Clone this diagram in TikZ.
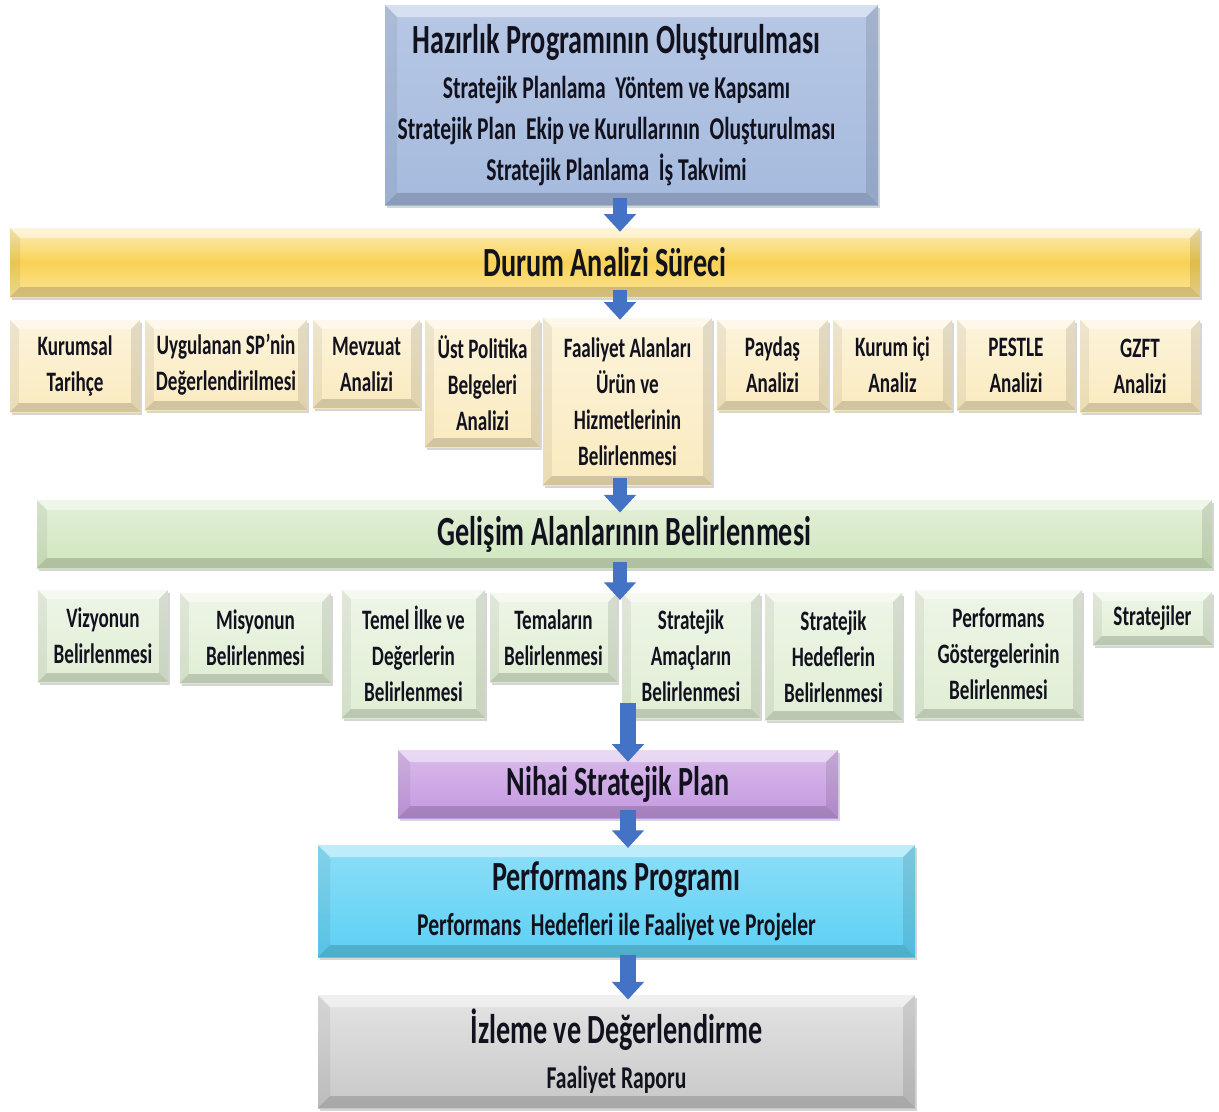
\documentclass[tikz,border=0pt]{standalone}
\usepackage{fontspec}
\setmainfont{Carlito}[FakeStretch=0.68]
\usetikzlibrary{arrows.meta, shadows}

\definecolor{arrowblue}{RGB}{68,114,196}
\definecolor{inktext}{RGB}{18,18,30}
\definecolor{prepblue}{RGB}{165,186,222}
\definecolor{bandgold}{RGB}{249,210,84}
\definecolor{cream}{RGB}{250,234,190}
\definecolor{bandgreen}{RGB}{208,230,190}
\definecolor{leafgreen}{RGB}{224,238,212}
\definecolor{planpurple}{RGB}{196,152,224}
\definecolor{perfcyan}{RGB}{92,208,244}
\definecolor{watchgray}{RGB}{200,200,200}

\newcommand\bigfont{\fontsize{29.5}{33}\selectfont}
\newcommand\subfont{\fontsize{22.6}{29}\selectfont}
\newcommand\boxfont{\fontsize{20}{25.6}\selectfont}

\tikzset{
  bevel/.style={path picture={
      \fill[white, opacity=0.45] (path picture bounding box.north west) -- (path picture bounding box.north east)
        -- ([shift={(-#1,-#1)}]path picture bounding box.north east) -- ([shift={(#1,-#1)}]path picture bounding box.north west) -- cycle;
      \fill[black, opacity=0.06] (path picture bounding box.north west) -- ([shift={(#1,-#1)}]path picture bounding box.north west)
        -- ([shift={(#1,#1)}]path picture bounding box.south west) -- (path picture bounding box.south west) -- cycle;
      \fill[black, opacity=0.1] (path picture bounding box.north east) -- (path picture bounding box.south east)
        -- ([shift={(-#1,#1)}]path picture bounding box.south east) -- ([shift={(-#1,-#1)}]path picture bounding box.north east) -- cycle;
      \fill[black, opacity=0.16] (path picture bounding box.south west) -- (path picture bounding box.south east)
        -- ([shift={(-#1,#1)}]path picture bounding box.south east) -- ([shift={(#1,#1)}]path picture bounding box.south west) -- cycle;
    }},
  bevel/.default=0.22cm,
  boxsize/.style 2 args={minimum width=#1*0.025cm, minimum height=#2*0.025cm},
  stage/.style={inner sep=0pt, align=center, text=inktext, font=\bfseries,
    drop shadow={shadow xshift=0.04cm, shadow yshift=-0.08cm, opacity=0.3, fill=black!55}},
  prep/.style={stage, bevel=0.3cm, top color=prepblue!80!white, bottom color=prepblue},
  preptext/.style={inner sep=0pt, align=center, text=inktext, font=\bfseries\subfont, xshift=-0.375cm},
  band/.style={stage, bevel=0.25cm, font=\bfseries\bigfont},
  gold/.style={band, top color=bandgold!40!white, bottom color=bandgold!60!white, middle color=bandgold},
  green/.style={band, top color=bandgreen!60!white, bottom color=bandgreen},
  item/.style={stage, bevel, font=\bfseries\boxfont},
  creambox/.style={item, top color=cream!55!white, bottom color=cream},
  leafbox/.style={item, top color=leafgreen!55!white, bottom color=leafgreen},
  final/.style={stage, bevel=0.3cm, font=\bfseries\subfont},
  flow/.style={draw=arrowblue, line width=0.36cm, -{Triangle[width=0.78cm, length=0.44cm]}}
}

\begin{document}
\begin{tikzpicture}[x=0.025cm, y=-0.025cm]
  \useasboundingbox (0,0) rectangle (1219,1112);
  \coordinate (axis) at (620,0);
  \coordinate (lowaxis) at (628,0);

  % hazirlik
  \node [prep, boxsize={493}{200}, label={[preptext]center:%
    {\bigfont Hazırlık Programının Oluşturulması}\\[3pt]
    Stratejik Planlama\ \ Yöntem ve Kapsamı\\
    Stratejik Plan\ \ Ekip ve Kurullarının\ \ Oluşturulması\\
    Stratejik Planlama\ \ İş Takvimi}] (prep) at (631.5,105) {};

  % durum analizi
  \node [gold, boxsize={1190}{69}] (durum) at (605,262.5) {Durum Analizi Süreci};
  \node [creambox, boxsize={130}{92}] (tarihce) at (75,366) {Kurumsal\\Tarihçe};
  \node [creambox, boxsize={162}{90}] (sp) at (226,365) {Uygulanan SP’nin\\Değerlendirilmesi};
  \node [creambox, boxsize={107}{88}] (mevzuat) at (366.5,364) {Mevzuat\\Analizi};
  \node [creambox, boxsize={115}{127}] (ustpol) at (482.5,383.5) {Üst Politika\\Belgeleri\\Analizi};
  \node [creambox, boxsize={169}{167}] (faaliyet) at (627.5,401.5) {Faaliyet Alanları\\Ürün ve\\Hizmetlerinin\\Belirlenmesi};
  \node [creambox, boxsize={111}{90}] (paydas) at (772.5,365) {Paydaş\\Analizi};
  \node [creambox, boxsize={119}{90}] (kurumici) at (892.5,365) {Kurum içi\\Analiz};
  \node [creambox, boxsize={118}{90}] (pestle) at (1016,365) {PESTLE\\Analizi};
  \node [creambox, boxsize={120}{92}] (gzft) at (1140,366) {GZFT\\Analizi};

  % gelisim alanlari
  \node [green, boxsize={1175}{68}] (gelisim) at (624.5,534) {Gelişim Alanlarının Belirlenmesi};
  \node [leafbox, boxsize={130}{92}] (vizyon) at (103,636) {Vizyonun\\Belirlenmesi};
  \node [leafbox, boxsize={151}{90}] (misyon) at (255.5,638) {Misyonun\\Belirlenmesi};
  \node [leafbox, boxsize={143}{128}] (ilke) at (413.5,654) {Temel İlke ve\\Değerlerin\\Belirlenmesi};
  \node [leafbox, boxsize={127}{89}] (tema) at (553.5,637.5) {Temaların\\Belirlenmesi};
  \node [leafbox, boxsize={138}{125}] (amac) at (691,655.5) {Stratejik\\Amaçların\\Belirlenmesi};
  \node [leafbox, boxsize={137}{127}] (hedef) at (833.5,656.5) {Stratejik\\Hedeflerin\\Belirlenmesi};
  \node [leafbox, boxsize={167}{128}] (gosterge) at (998.5,654) {Performans\\Göstergelerinin\\Belirlenmesi};
  \node [leafbox, boxsize={119}{53}] (strateji) at (1152.5,618.5) {Stratejiler};

  % plan, program, izleme
  \node [final, font=\bfseries\bigfont, top color=planpurple!65!white, bottom color=planpurple,
    boxsize={440}{68}] (nihai) at (618,784) {Nihai Stratejik Plan};
  \node [final, top color=perfcyan!70!white, bottom color=perfcyan, boxsize={597}{112}] (perf) at (616.5,901) {%
    {\bigfont Performans Programı}\\[3pt]
    Performans\ \ Hedefleri ile Faaliyet ve Projeler};
  \node [final, top color=watchgray!50!white, bottom color=watchgray, boxsize={597}{113}] (izleme) at (616.5,1051.5) {%
    {\bigfont İzleme ve Değerlendirme}\\[3pt]
    Faaliyet\ Raporu};

  \draw [flow, shorten <=-0.18cm, shorten >=-0.1cm] (prep.south -| axis) -- (durum.north -| axis);
  \draw [flow, shorten <=-0.18cm, shorten >=-0.05cm] (durum.south -| axis) -- (faaliyet.north -| axis);
  \draw [flow, shorten <=-0.18cm, shorten >=-0.32cm] (faaliyet.south -| axis) -- (gelisim.north -| axis);
  \draw [flow, shorten <=-0.15cm, shorten >=-0.18cm] (gelisim.south -| axis) -- (amac.north -| axis);
  \draw [flow, line width=0.4cm, shorten <=-0.38cm, shorten >=-0.3cm] (amac.south -| lowaxis) -- (nihai.north -| lowaxis);
  \draw [flow, line width=0.4cm, shorten <=-0.2cm, shorten >=-0.08cm] (nihai.south -| lowaxis) -- (perf.north -| lowaxis);
  \draw [flow, line width=0.4cm, shorten <=-0.05cm, shorten >=-0.12cm] (perf.south -| lowaxis) -- (izleme.north -| lowaxis);
\end{tikzpicture}
\end{document}
